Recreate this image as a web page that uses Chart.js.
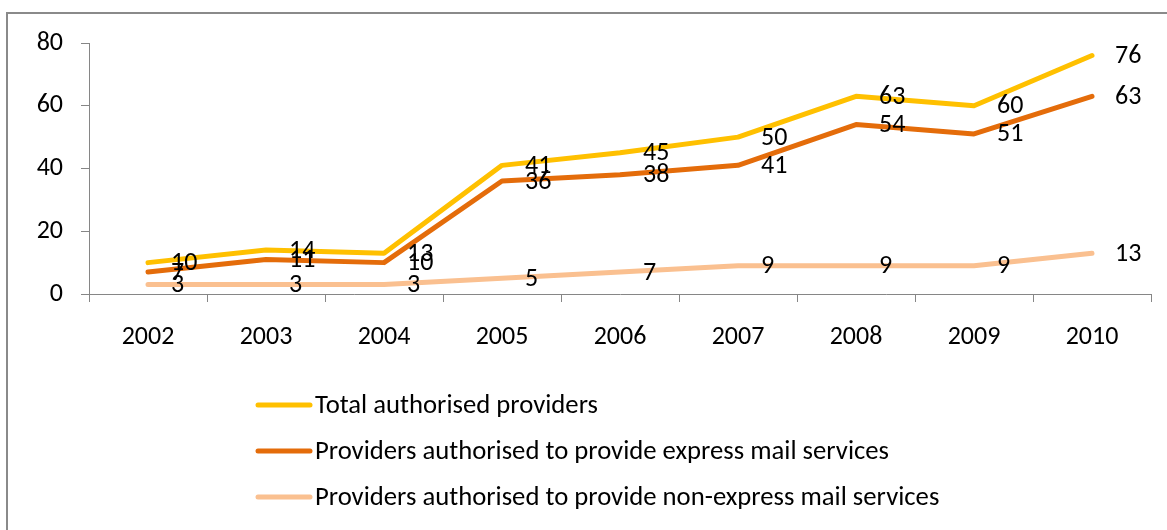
<!DOCTYPE html>
<html>
<head>
<meta charset="utf-8">
<title>Authorised postal service providers 2002-2010</title>
<script src="https://cdn.jsdelivr.net/npm/chart.js@4/dist/chart.umd.min.js"></script>
<style>
  html, body { margin: 0; padding: 0; background: #fff; }
  #wrap { position: relative; width: 1167px; height: 530px; overflow: hidden; }
  #frame { position: absolute; left: 6px; top: 12px; width: 1200px; height: 600px; border: 2px solid #8a8a8a; }
  #providersChart { position: absolute; left: 0; top: 0; }
</style>
</head>
<body>
<div id="wrap">
  <div id="frame"></div>
  <canvas id="providersChart" width="1167" height="530"></canvas>
</div>
<script>
const years = ['2002', '2003', '2004', '2005', '2006', '2007', '2008', '2009', '2010'];
const totalProviders = [10, 14, 13, 41, 45, 50, 63, 60, 76];
const expressProviders = [7, 11, 10, 36, 38, 41, 54, 51, 63];
const nonExpressProviders = [3, 3, 3, 5, 7, 9, 9, 9, 13];
const seriesNames = [
  'Total authorised providers',
  'Providers authorised to provide express mail services',
  'Providers authorised to provide non-express mail services'
];
const yTicks = [0, 20, 40, 60, 80];

const FONT_FAMILY = 'Carlito, "Open Sans", sans-serif';
const FONT_SIZE = 26;
const LEGEND_FONT_SIZE = 26.7;
const AXIS_GREY = '#868686';

// numbers printed to the right of every point
const valueLabels = {
  id: 'valueLabels',
  afterDatasetsDraw(chart) {
    const ctx = chart.ctx;
    ctx.save();
    ctx.font = FONT_SIZE + 'px ' + FONT_FAMILY;
    ctx.fillStyle = '#000';
    ctx.textAlign = 'left';
    ctx.textBaseline = 'middle';
    chart.data.datasets.forEach((ds, i) => {
      chart.getDatasetMeta(i).data.forEach((pt, j) => {
        ctx.fillText(String(ds.data[j]), pt.x + 23, pt.y + 1);
      });
    });
    ctx.restore();
  }
};

// stacked legend under the x axis
const stackedLegend = {
  id: 'stackedLegend',
  afterDraw(chart) {
    const ctx = chart.ctx;
    const x0 = 258, lineLen = 52, top = 405, rowGap = 46;
    ctx.save();
    ctx.font = LEGEND_FONT_SIZE + 'px ' + FONT_FAMILY;
    ctx.textAlign = 'left';
    ctx.textBaseline = 'middle';
    chart.data.datasets.forEach((ds, i) => {
      const y = Math.round(top + i * rowGap);
      ctx.strokeStyle = ds.borderColor;
      ctx.lineWidth = 5;
      ctx.lineCap = 'round';
      ctx.beginPath();
      ctx.moveTo(x0, y);
      ctx.lineTo(x0 + lineLen, y);
      ctx.stroke();
      ctx.fillStyle = '#000';
      ctx.fillText(ds.label, x0 + lineLen + 5, y + 1);
    });
    ctx.restore();
  }
};

const lineStyle = {
  borderWidth: 5,
  pointRadius: 0,
  pointHoverRadius: 0,
  tension: 0,
  borderCapStyle: 'round',
  borderJoinStyle: 'round',
  fill: false
};

const ctx = document.getElementById('providersChart').getContext('2d');
new Chart(ctx, {
  type: 'line',
  data: {
    labels: years,
    datasets: [
      Object.assign({ label: seriesNames[0], data: totalProviders, borderColor: '#FFC000', backgroundColor: '#FFC000' }, lineStyle),
      Object.assign({ label: seriesNames[1], data: expressProviders, borderColor: '#E46C0A', backgroundColor: '#E46C0A' }, lineStyle),
      Object.assign({ label: seriesNames[2], data: nonExpressProviders, borderColor: '#FAC090', backgroundColor: '#FAC090' }, lineStyle)
    ]
  },
  options: {
    responsive: false,
    animation: false,
    events: [],
    layout: { padding: { left: 0, right: 16, top: 43, bottom: 186 } },
    plugins: {
      legend: { display: false },
      tooltip: { enabled: false }
    },
    scales: {
      x: {
        offset: true,
        afterFit: s => { s.height = 50; },
        grid: { offset: true, drawOnChartArea: false, drawTicks: true, tickLength: 8, color: AXIS_GREY },
        border: { color: AXIS_GREY, width: 1 },
        ticks: { color: '#000', padding: 20, maxRotation: 0, font: { family: FONT_FAMILY, size: FONT_SIZE } }
      },
      y: {
        min: 0,
        max: 80,
        afterFit: s => { s.width = 89; },
        afterBuildTicks: s => { s.ticks = yTicks.map(v => ({ value: v })); },
        grid: { drawOnChartArea: false, drawTicks: true, tickLength: 8, color: AXIS_GREY },
        border: { color: AXIS_GREY, width: 1 },
        ticks: { color: '#000', padding: 18, font: { family: FONT_FAMILY, size: FONT_SIZE } }
      }
    }
  },
  plugins: [valueLabels, stackedLegend]
});
</script>
</body>
</html>
